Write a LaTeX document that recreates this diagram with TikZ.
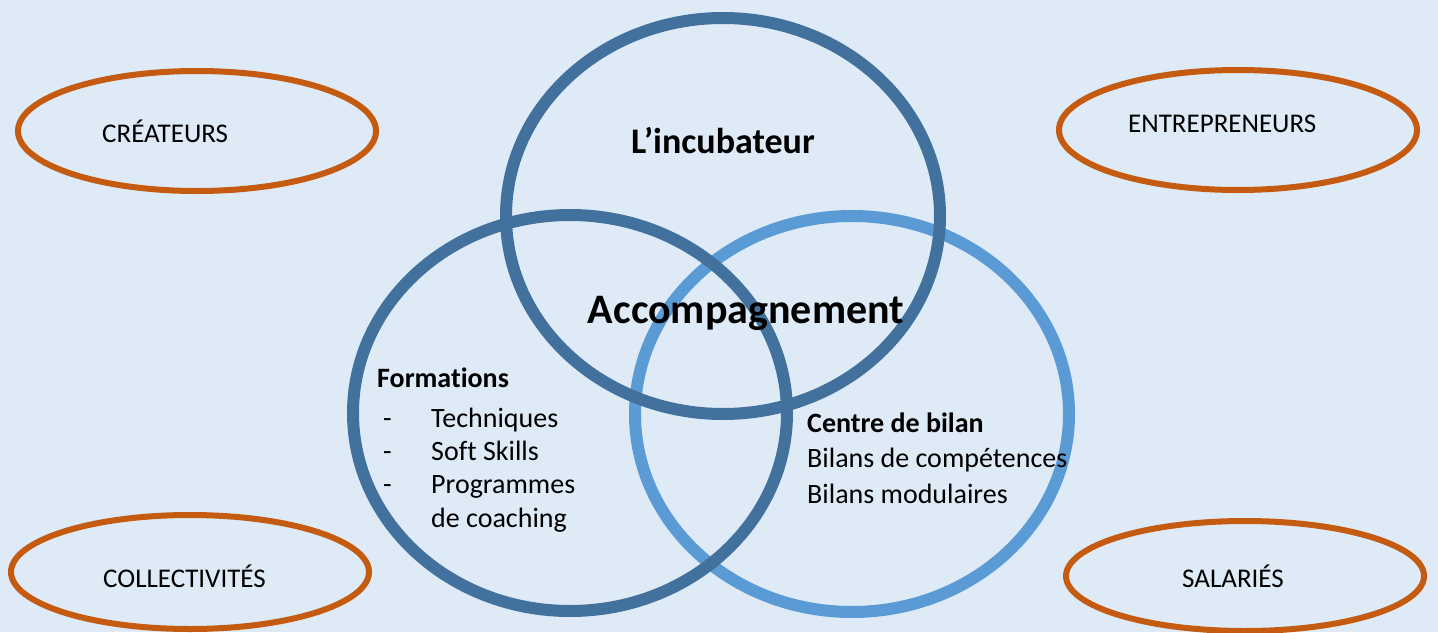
\documentclass[tikz,border=0pt]{standalone}
\usepackage{fontspec}
\setmainfont{Carlito}[Ligatures=TeX, RawFeature={-liga;-clig;-dlig;-calt}]
\usetikzlibrary{shapes.geometric}
\definecolor{bgblue}{HTML}{DEEAF6}
\definecolor{darkring}{HTML}{41719C}
\definecolor{lightring}{HTML}{5B9BD5}
\definecolor{orangering}{HTML}{C55A11}
\tikzset{
  ring/.style={ellipse, draw, line width=12pt, minimum width=434pt, minimum height=396pt, inner sep=0pt},
  oval/.style={ellipse, draw=orangering, line width=6pt, minimum width=358pt, minimum height=120pt, inner sep=0pt},
  captxt/.style={anchor=base west, inner sep=0pt, font=\fontsize{27}{32}\selectfont},
  bodytxt/.style={anchor=base west, inner sep=0pt, font=\fontsize{28}{34}\selectfont},
  boldtxt/.style={anchor=base west, inner sep=0pt, font=\fontsize{28}{34}\selectfont\bfseries},
  bigtxt/.style={anchor=base, inner sep=0pt, font=\bfseries},
}
\begin{document}
\begin{tikzpicture}[x=1pt,y=-1pt]
\useasboundingbox (0,0) rectangle (1438,632);
\fill[bgblue] (0,0) rectangle (1438,632);
% rings
\node[ring, draw=lightring] (right) at (852,414) {};
\node[ring, draw=darkring] (left) at (570,413) {};
\node[ring, draw=darkring] (top) at (723,216) {};
% orange ovals
\node[oval] (crea) at (197,131) {};
\node[oval] (entr) at (1238,130) {};
\node[oval, minimum height=114pt] (coll) at (190,572) {};
\node[oval, minimum height=110pt] (sala) at (1245,576) {};
% oval labels
\node[captxt] (tcrea) at (102,142) {CRÉATEURS};
\node[captxt] (tentr) at (1128,132) {ENTREPRENEURS};
\node[captxt] (tcoll) at (103,587) {COLLECTIVITÉS};
\node[captxt] (tsala) at (1182,587) {SALARIÉS};
% titles
\node[bigtxt, font=\fontsize{36}{42}\selectfont\bfseries] (tinc) at (723,153) {L’incubateur};
\node[bigtxt, font=\fontsize{42}{50}\selectfont\bfseries] (tacc) at (746,323) {Accompagnement};
% formations
\node[boldtxt] (tform) at (377,387) {Formations};
\node[bodytxt] (d1) at (383,427) {-};
\node[bodytxt] (d2) at (383,460) {-};
\node[bodytxt] (d3) at (383,493) {-};
\node[bodytxt] (f1) at (431,427) {Techniques};
\node[bodytxt] (f2) at (431,460) {Soft Skills};
\node[bodytxt] (f3) at (431,493) {Programmes};
\node[bodytxt] (f4) at (431,527) {de coaching};
% centre de bilan
\node[boldtxt] (tcent) at (807,432) {Centre de bilan};
\node[bodytxt] (c1) at (807,467) {Bilans de compétences};
\node[bodytxt] (c2) at (807,503) {Bilans modulaires};
\end{tikzpicture}
\end{document}
